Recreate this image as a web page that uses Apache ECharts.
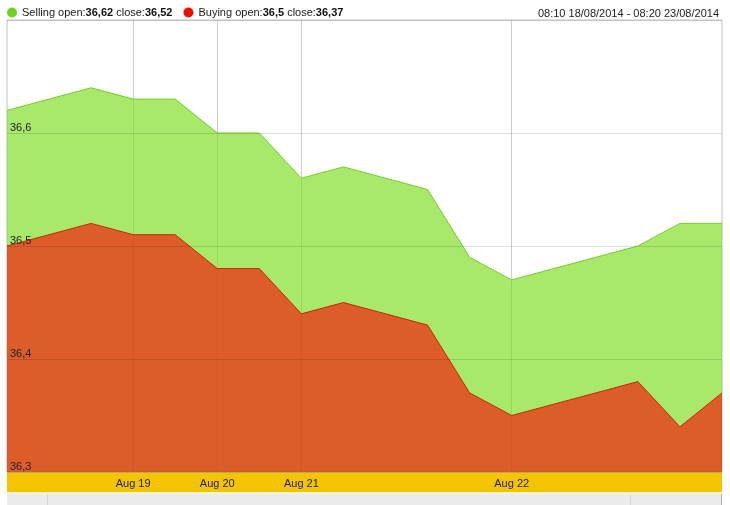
<!DOCTYPE html>
<html>
<head>
<meta charset="utf-8">
<script src="https://cdn.jsdelivr.net/npm/echarts@6/dist/echarts.min.js"></script>
<style>html,body{margin:0;padding:0;background:#fff;}#c{width:730px;height:505px;}</style>
</head>
<body>
<div id="c"></div>
<script>
var categories = ['18/08 08:10','18/08 14:00','18/08 20:00','19/08 08:00','19/08 14:00','20/08 08:00','20/08 14:00','21/08 08:00','21/08 12:00','21/08 16:00','21/08 20:00','22/08 04:00','22/08 08:00','22/08 12:00','22/08 16:00','22/08 20:00','23/08 04:00','23/08 08:20'];
var tickLabels = ['','','','Aug 19','','Aug 20','','Aug 21','','','','','Aug 22','','','','',''];
var selling = [36.62,36.63,36.64,36.63,36.63,36.60,36.60,36.56,36.57,36.56,36.55,36.49,36.47,36.48,36.49,36.50,36.52,36.52];
var buying  = [36.50,36.51,36.52,36.51,36.51,36.48,36.48,36.44,36.45,36.44,36.43,36.37,36.35,36.36,36.37,36.38,36.34,36.37];
var yTicks = [36.3,36.4,36.5,36.6,36.7];
var sellingName = 'Selling', buyingName = 'Buying';
var rangeText = '08:10 18/08/2014 - 08:20 23/08/2014';

function fmt(v){ return String(v).replace('.', ','); }

var chart = echarts.init(document.getElementById('c'), null, {renderer:'canvas'});
var font = 'Liberation Sans, Arial, sans-serif';
chart.setOption({
  animation: false,
  backgroundColor: '#fff',
  textStyle: {fontFamily: font},
  title: {
    text: rangeText, right: 6, top: 3,
    textStyle: {fontSize: 11, fontWeight: 'normal', color: '#222', fontFamily: font}
  },
  legend: {
    left: 2, top: 2, itemWidth: 10, itemHeight: 10, itemGap: 11, icon: 'circle',
    data: [sellingName, buyingName],
    formatter: function(name){
      var arr = name === sellingName ? selling : buying;
      return '{n|' + name + ' open:}{b|' + fmt(arr[0]) + '}{n| close:}{b|' + fmt(arr[arr.length-1]) + '}';
    },
    textStyle: {
      fontSize: 11, color: '#222', fontFamily: font,
      rich: {
        n: {fontSize: 11, color: '#222', fontFamily: font},
        b: {fontSize: 11, color: '#111', fontWeight: 'bold', fontFamily: font}
      }
    }
  },
  grid: {left: 7, right: 8, top: 20, height: 452, show: true, borderColor: '#c0c0c0', borderWidth: 1, backgroundColor: 'transparent'},
  xAxis: {
    type: 'category', data: categories, boundaryGap: false,
    axisLine: {show: false}, axisTick: {show: false},
    axisLabel: {
      interval: function(i){ return tickLabels[i] !== ''; },
      formatter: function(v, i){ return tickLabels[i]; },
      fontSize: 11, color: '#222', margin: 6, fontFamily: font
    },
    splitLine: {show: true, interval: function(i){ return tickLabels[i] !== ''; }, lineStyle: {color: '#cccccc', width: 1}}
  },
  yAxis: {
    type: 'value', min: yTicks[0], max: yTicks[yTicks.length-1], interval: 0.1, z: 5,
    axisLine: {show: false}, axisTick: {show: false},
    axisLabel: {
      inside: true, margin: 3, verticalAlign: 'bottom', showMaxLabel: false,
      formatter: function(v){ return fmt(Math.round(v*10)/10); },
      fontSize: 11, color: '#222', fontFamily: font
    },
    splitLine: {lineStyle: {color: 'rgba(0,0,0,0.12)', width: 1}}
  },
  graphic: [
    {type: 'rect', z: -1, shape: {x: 7, y: 472, width: 715, height: 20}, style: {fill: '#f4c400'}},
    {type: 'rect', z: -1, shape: {x: 7, y: 492, width: 715, height: 2}, style: {fill: '#fdf6d0'}},
    {type: 'rect', z: -1, shape: {x: 7, y: 494, width: 715, height: 11}, style: {fill: '#ececec'}},
    {type: 'line', z: -1, shape: {x1: 47.5, y1: 494, x2: 47.5, y2: 505}, style: {stroke: '#d6d6d6', lineWidth: 1}},
    {type: 'line', z: -1, shape: {x1: 630.5, y1: 494, x2: 630.5, y2: 505}, style: {stroke: '#d6d6d6', lineWidth: 1}},
    {type: 'line', z: -1, shape: {x1: 721.5, y1: 494, x2: 721.5, y2: 505}, style: {stroke: '#b0b0b0', lineWidth: 1}}
  ],
  series: [
    {
      name: sellingName, type: 'line', data: selling, symbol: 'none', smooth: false,
      itemStyle: {color: '#6fd01e'},
      lineStyle: {color: '#7acb2a', width: 1},
      areaStyle: {color: 'rgba(121,220,26,0.65)', opacity: 1, origin: 'start'}
    },
    {
      name: buyingName, type: 'line', data: buying, symbol: 'none', smooth: false,
      itemStyle: {color: '#ee1100'},
      lineStyle: {color: '#c42a00', width: 1},
      areaStyle: {color: 'rgba(255,0,0,0.6)', opacity: 1, origin: 'start'}
    }
  ]
});
</script>
</body>
</html>
